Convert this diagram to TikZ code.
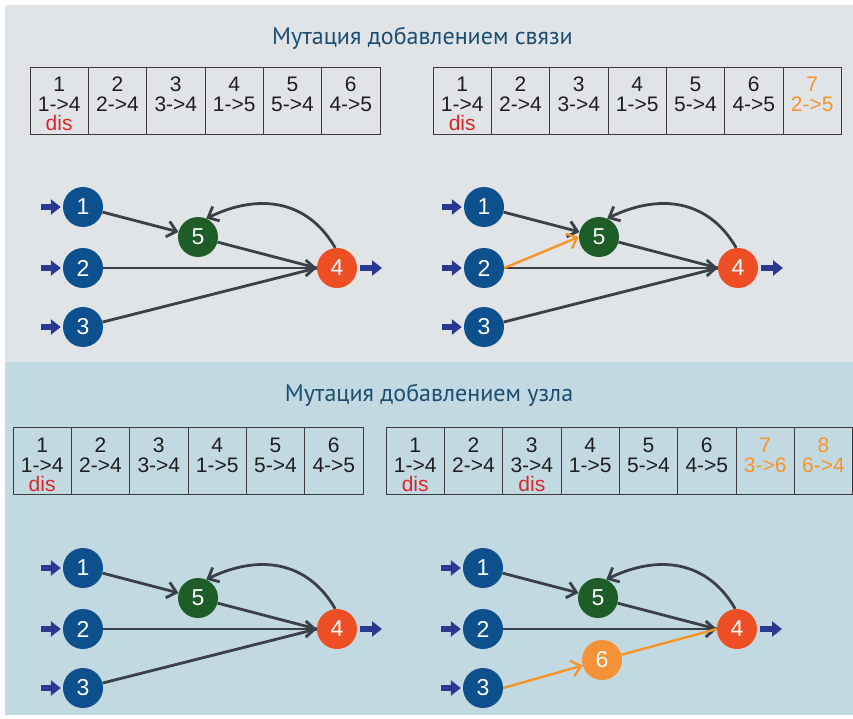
\documentclass[tikz,border=0pt]{standalone}
\usepackage{fontspec}
\setmainfont{Liberation Sans}
\newfontfamily\ttlfont{PT Sans}
\usetikzlibrary{arrows.meta}
\definecolor{bgtop}{RGB}{224,228,231}
\definecolor{bgbot}{RGB}{194,217,225}
\definecolor{ttl}{RGB}{27,78,115}
\definecolor{nblue}{RGB}{12,80,142}
\definecolor{ngreen}{RGB}{30,92,40}
\definecolor{nred}{RGB}{238,78,35}
\definecolor{norange}{RGB}{245,145,55}
\definecolor{edgegray}{RGB}{58,64,70}
\definecolor{eorange}{RGB}{247,148,40}
\definecolor{inblue}{RGB}{42,56,146}
\definecolor{disred}{RGB}{218,38,42}
\definecolor{celltxt}{RGB}{30,30,30}
\definecolor{cellline}{RGB}{60,60,60}
\newcommand\gcell[6]{%
  \node[cellbox] (#1) at ({#2+29.17},{-#3-33.5}) {};
  \node[celltext,text=#6] (#1n) at ({#2+29.17},{-#3-25}) {#4};
  \node[celltext,text=#6] (#1c) at ({#2+29.17},{-#3-45}) {#5};}
\newcommand\gdis[3]{%
  \node[celltext,text=disred] (#1d) at ({#2+29.17},{-#3-64}) {dis};}
\newcommand\ggraph[3]{%
  \node[nd,fill=nblue] (#1n1) at ({83+#2},{-207-#3}) {1};
  \node[nd,fill=nblue] (#1n2) at ({83+#2},{-268-#3}) {2};
  \node[nd,fill=nblue] (#1n3) at ({83+#2},{-327-#3}) {3};
  \node[nd,fill=ngreen] (#1n5) at ({198+#2},{-237-#3}) {5};
  \node[nd,fill=nred] (#1n4) at ({337+#2},{-268-#3}) {4};
  \coordinate (#1i1) at ({41+#2},{-207-#3});
  \coordinate (#1i2) at ({41+#2},{-268-#3});
  \coordinate (#1i3) at ({41+#2},{-327-#3});
  \coordinate (#1o) at ({382+#2},{-268-#3});
  \draw[inarrow] (#1i1) -- (#1n1);
  \draw[inarrow] (#1i2) -- (#1n2);
  \draw[inarrow] (#1i3) -- (#1n3);
  \draw[outarrow] (#1n4) -- (#1o);
  \draw[edge,-ebarb] (#1n1) -- (#1n5);
  \draw[edge] (#1n5) -- (#1n4.west);
  \draw[edge,-ebarb] (#1n2) -- (#1n4.west);
  \draw[edge,-ebarb] (#1n4.95) to[out=120,in=26,looseness=1.1] (#1n5.66);}
\begin{document}
\begin{tikzpicture}[x=1pt,y=1pt,
  cellbox/.style={draw=cellline, line width=0.9pt, minimum width=58.33pt, minimum height=67pt, inner sep=0pt},
  celltext/.style={font=\fontsize{21}{20}\selectfont, inner sep=0pt, anchor=base},
  nd/.style={circle, minimum size=40pt, inner sep=0pt, text=white, font=\fontsize{23}{23}\selectfont},
  ebarb/.tip={Straight Barb[length=9pt,width=16pt]},
  edge/.style={draw=edgegray, line width=2.8pt},
  oedge/.style={draw=eorange, line width=2.4pt},
  inarrow/.style={draw=inblue, line width=6pt, -{Triangle[length=10pt,width=15pt]}, shorten >=2pt},
  outarrow/.style={draw=inblue, line width=6pt, -{Triangle[length=10pt,width=15pt]}, shorten <=3pt},
  ttlstyle/.style={font=\ttlfont\fontsize{24}{24}\selectfont, text=ttl, anchor=base, inner sep=0pt}
]
\path[use as bounding box, fill=white] (0,0) rectangle (853,-719);
\fill[bgtop] (5,-5) rectangle (853,-362);
\fill[bgbot] (5,-362) rectangle (853,-715);
\node[ttlstyle] (t1) at (422.5,-45) {Мутация добавлением связи};
\node[ttlstyle] (t2) at (429,-401) {Мутация добавлением узла};
% tables
\foreach \n/\c [count=\i] in {1/1->4,2/2->4,3/3->4,4/1->5,5/5->4,6/4->5}{
  \gcell{tl\i}{30+(\i-1)*58.33}{67}{\n}{\c}{celltxt}
  \gcell{tr\i}{433+(\i-1)*58.33}{67}{\n}{\c}{celltxt}
  \gcell{bl\i}{13+(\i-1)*58.33}{427}{\n}{\c}{celltxt}
  \gcell{br\i}{386+(\i-1)*58.33}{427}{\n}{\c}{celltxt}
}
\gcell{tr7}{433+6*58.33}{67}{7}{2->5}{eorange}
\gcell{br7}{386+6*58.33}{427}{7}{3->6}{eorange}
\gcell{br8}{386+7*58.33}{427}{8}{6->4}{eorange}
\gdis{tl1}{30}{67}
\gdis{tr1}{433}{67}
\gdis{bl1}{13}{427}
\gdis{br1}{386}{427}
\gdis{br3}{386+2*58.33}{427}
% graphs
\ggraph{a}{0}{0}
\draw[edge] (an3) -- (an4.west);
\ggraph{b}{401}{0}
\draw[edge] (bn3) -- (bn4.west);
\draw[oedge,-ebarb] (bn2.east) -- (bn5.west);
\ggraph{c}{0}{361}
\draw[edge] (cn3) -- (cn4.west);
\ggraph{d}{400}{361}
\node[nd,fill=norange] (dn6) at (602,-660) {6};
\draw[oedge,-ebarb] (dn3.east) -- (dn6);
\draw[oedge] (dn6) -- (dn4.west);
\end{tikzpicture}
\end{document}
